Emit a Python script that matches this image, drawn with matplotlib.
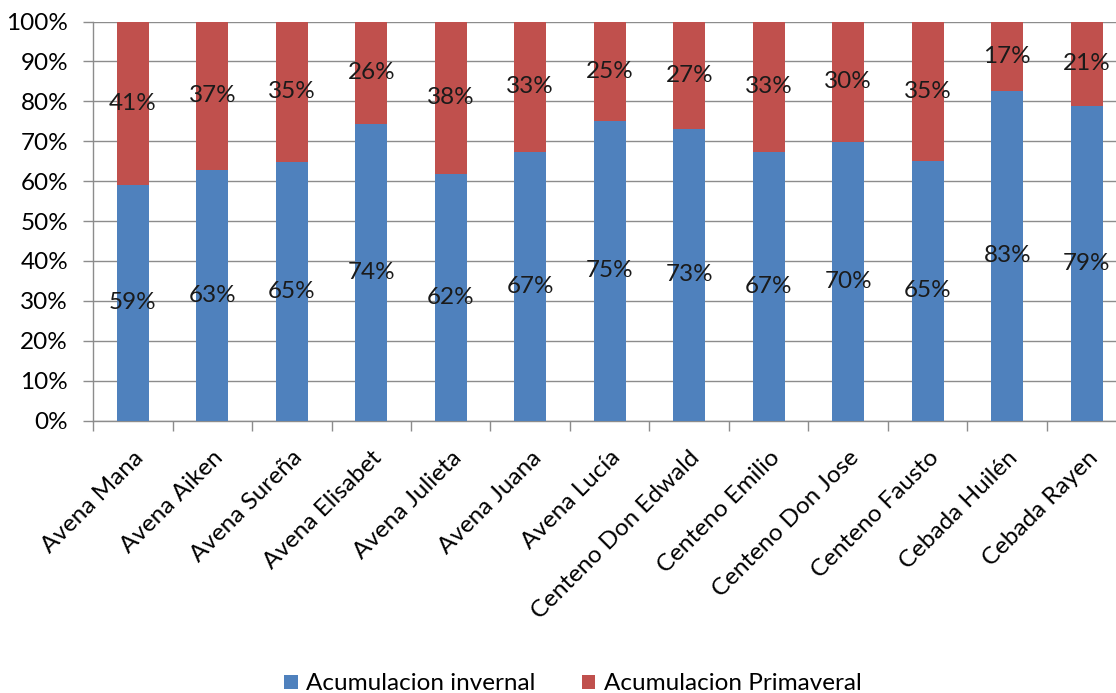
import matplotlib.pyplot as plt
import matplotlib.transforms as mtransforms
import numpy as np

# data (percent of total)
varieties = ['Avena Mana', 'Avena Aiken', 'Avena Sureña', 'Avena Elisabet',
             'Avena Julieta', 'Avena Juana', 'Avena Lucía', 'Centeno Don Edwald',
             'Centeno Emilio', 'Centeno Don Jose', 'Centeno Fausto',
             'Cebada Huilén', 'Cebada Rayen']
invernal = [59.0, 62.8, 64.7, 74.4, 61.9, 67.3, 75.1, 73.1, 67.3, 69.9, 65.0, 82.6, 78.9]
primaveral = [41.0, 37.2, 35.3, 25.6, 38.1, 32.7, 24.9, 26.9, 32.7, 30.1, 35.0, 17.4, 21.1]

BLUE = '#4F81BD'
RED = '#C0504D'
GRID = '#8C8C8C'
FS = 17.5

plt.rcParams['font.family'] = ['Lato', 'DejaVu Sans']

fig = plt.figure(figsize=(11.16, 6.93), dpi=100)
W, H = 1116, 693
left, right, top, bottom = 93, 1126.5, 21.5, 420.5
ax = fig.add_axes([left / W, 1 - bottom / H, (right - left) / W, (bottom - top) / H])

x = np.arange(len(varieties))
b1 = ax.bar(x, invernal, width=0.4, color=BLUE, label='Acumulacion invernal', zorder=3)
b2 = ax.bar(x, primaveral, width=0.4, bottom=invernal, color=RED,
            label='Acumulacion Primaveral', zorder=3)

# data labels at the middle of each segment
for i in range(len(varieties)):
    ax.text(x[i], invernal[i] / 2, f'{round(invernal[i])}%', ha='center', va='center',
            fontsize=FS, color='#1a1a1a', zorder=4)
    ax.text(x[i], invernal[i] + primaveral[i] / 2, f'{round(primaveral[i])}%',
            ha='center', va='center', fontsize=FS, color='#1a1a1a', zorder=4)

ax.set_xlim(-0.5, len(varieties) - 0.5)
ax.set_ylim(0, 100)
ax.set_yticks(np.arange(0, 101, 10))
ax.set_yticklabels([f'{v}%' for v in range(0, 101, 10)], fontsize=FS)
ax.yaxis.grid(True, color=GRID, linewidth=1, zorder=0)

ax.set_xticks(x)
ax.set_xticklabels(varieties, rotation=45, ha='right', va='top',
                   rotation_mode='anchor', fontsize=FS)
# nudge rotated labels a little to the left
shift = mtransforms.ScaledTranslation(-4 / 100, 0, fig.dpi_scale_trans)
for lab in ax.get_xticklabels():
    lab.set_transform(lab.get_transform() + shift)
ax.set_xticks(np.arange(-0.5, len(varieties), 1), minor=True)
ax.tick_params(axis='x', which='major', length=0, pad=19)
ax.tick_params(axis='x', which='minor', length=7, color=GRID, width=1)
ax.tick_params(axis='y', length=7, color=GRID, width=1, pad=11)

for s in ['top', 'right']:
    ax.spines[s].set_visible(False)
for s in ['left', 'bottom']:
    ax.spines[s].set_color(GRID)
    ax.spines[s].set_linewidth(1)

fig.legend(handles=[b1, b2], loc='center', bbox_to_anchor=(573 / W, 1 - 684 / H),
           ncol=2, frameon=False, fontsize=FS, handlelength=0.55, handleheight=0.55,
           handletextpad=0.35, columnspacing=1.9)

fig.savefig('out.png', dpi=100)
